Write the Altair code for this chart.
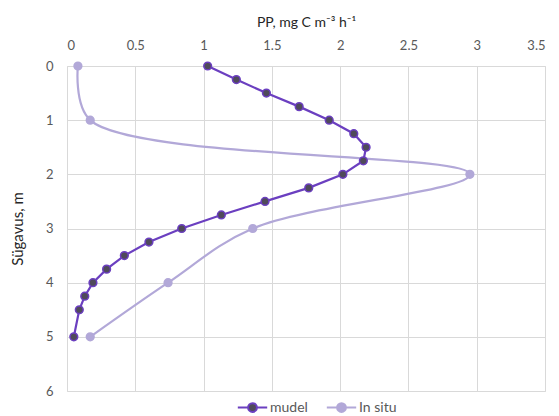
import altair as alt
import pandas as pd

mudel_depth = [0, 0.25, 0.5, 0.75, 1.0, 1.25, 1.5, 1.75, 2.0, 2.25, 2.5, 2.75,
               3.0, 3.25, 3.5, 3.75, 4.0, 4.25, 4.5, 5.0]
mudel_pp = [1.03, 1.24, 1.46, 1.70, 1.92, 2.10, 2.19, 2.17, 2.02, 1.77, 1.45, 1.13,
            0.84, 0.60, 0.42, 0.29, 0.19, 0.13, 0.09, 0.05]
insitu_depth = [0, 1, 2, 3, 4, 5]
insitu_pp = [0.08, 0.17, 2.95, 1.36, 0.74, 0.17]

series_names = ["mudel", "In situ"]
line_colors = ["#6b3fc0", "#b2a8d8"]
fill_colors = ["#4f4a5a", "#b2a8d8"]

df = pd.concat([
    pd.DataFrame({"depth": mudel_depth, "pp": mudel_pp, "series": "mudel"}),
    pd.DataFrame({"depth": insitu_depth, "pp": insitu_pp, "series": "In situ"}),
])

FONT = "Lato"

x = alt.X("pp:Q", scale=alt.Scale(domain=[0, 3.5], nice=False),
          axis=alt.Axis(orient="top", title="PP, mg C m⁻³ h⁻¹", values=[0, 0.5, 1, 1.5, 2, 2.5, 3, 3.5],
                        labelExpr="datum.value",
                        domain=False, ticks=False, labelPadding=14, titlePadding=10,
                        labelFontSize=13, titleFontSize=14, titleFontWeight="normal",
                        labelColor="#595959", titleColor="#262626",
                        gridColor="#d9d9d9", labelFont=FONT, titleFont=FONT))
y = alt.Y("depth:Q", scale=alt.Scale(domain=[0, 6], reverse=True, nice=False),
          axis=alt.Axis(title="Sügavus, m", values=[0, 1, 2, 3, 4, 5, 6],
                        domain=False, ticks=False, labelPadding=14, titlePadding=20,
                        labelFontSize=13, titleFontSize=15, titleFontWeight="normal",
                        labelColor="#595959", titleColor="#262626",
                        gridColor="#d9d9d9", labelFont=FONT, titleFont=FONT))

legend_symbol = "M-1.2,0L-0.36,0M0.36,0L1.2,0M-0.36,0A0.36,0.36 0 1,0 0.36,0A0.36,0.36 0 1,0 -0.36,0Z"
legend = alt.Legend(title=None, orient="none", legendX=172, legendY=328, direction="horizontal",
                    symbolType=legend_symbol, symbolSize=600, symbolStrokeWidth=2,
                    labelFontSize=14, labelColor="#595959", labelFont=FONT, columnPadding=14,
                    labelOffset=4)

stroke = alt.Stroke("series:N", scale=alt.Scale(domain=series_names, range=line_colors), legend=legend)
fill = alt.Fill("series:N", scale=alt.Scale(domain=series_names, range=fill_colors), legend=legend)

mudel_line = alt.Chart(df).transform_filter(alt.datum.series == "mudel").mark_line(
    strokeWidth=2.2, interpolate="linear").encode(x=x, y=y, stroke=stroke, order="depth:Q")
insitu_line = alt.Chart(df).transform_filter(alt.datum.series == "In situ").mark_line(
    strokeWidth=2.2, interpolate="catmull-rom").encode(x=x, y=y, stroke=stroke, order="depth:Q")
points = alt.Chart(df).mark_point(filled=False, size=60, strokeWidth=1.5, opacity=1).encode(
    x=x, y=y, stroke=stroke, fill=fill)

chart = alt.layer(insitu_line, mudel_line, points).properties(
    width=478, height=325,
    autosize=alt.AutoSizeParams(type="none"),
    padding={"left": 59, "top": 58, "right": 6, "bottom": 25},
).configure_view(stroke=None).configure(font=FONT)

chart.save("out.html", embed_options={"renderer": "svg", "actions": False})
